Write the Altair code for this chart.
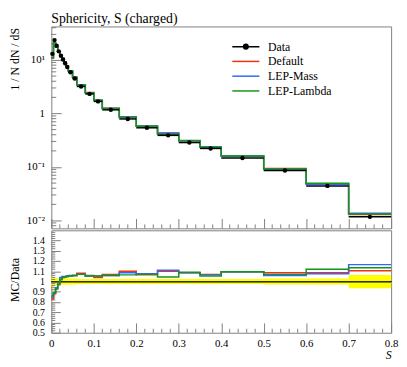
import altair as alt
import pandas as pd

FONT = "Liberation Serif"
GRAY = "#808080"

# ---------------- data ----------------
edges = [0.0, 0.005, 0.01, 0.015, 0.02, 0.025, 0.03, 0.035, 0.04, 0.05, 0.06, 0.08,
         0.10, 0.12, 0.16, 0.20, 0.25, 0.30, 0.35, 0.40, 0.50, 0.60, 0.70, 0.80]
data_vals = [13.0, 23.5, 18.5, 14.5, 12.0, 10.2, 8.7, 7.4, 5.9, 4.5, 3.2, 2.32, 1.68,
             1.17, 0.79, 0.54, 0.39, 0.286, 0.222, 0.147, 0.086, 0.0443, 0.0117]
data_relerr = [0.05, 0.04, 0.035, 0.03, 0.03, 0.03, 0.03, 0.03, 0.03, 0.03, 0.025, 0.025,
               0.025, 0.025, 0.025, 0.025, 0.025, 0.025, 0.025, 0.025, 0.03, 0.03, 0.065]
mc_default = [10.79, 20.68, 17.21, 14.07, 12.24, 10.61, 9.09, 7.77, 6.22, 4.77, 3.456, 2.459,
              1.747, 1.252, 0.869, 0.575, 0.429, 0.310, 0.2375, 0.161, 0.0933, 0.0481, 0.01293]
mc_lepmass = [11.05, 20.92, 17.39, 14.36, 12.48, 10.71, 9.14, 7.81, 6.25, 4.77, 3.424, 2.448,
              1.772, 1.240, 0.857, 0.5805, 0.433, 0.310, 0.2364, 0.161, 0.0912, 0.0476, 0.01363]
mc_leplambda = [11.18, 20.92, 17.21, 14.07, 12.24, 10.61, 9.09, 7.77, 6.22, 4.77, 3.424, 2.448,
                1.772, 1.240, 0.841, 0.578, 0.4076, 0.3117, 0.2342, 0.161, 0.0920, 0.0496, 0.01328]
ratio_default = [0.83, 0.88, 0.93, 0.97, 1.02, 1.04, 1.045, 1.05, 1.055, 1.06, 1.08, 1.06,
                 1.04, 1.07, 1.10, 1.065, 1.10, 1.085, 1.07, 1.095, 1.085, 1.085, 1.105]
ratio_lepmass = [0.85, 0.89, 0.94, 0.99, 1.04, 1.05, 1.05, 1.055, 1.06, 1.06, 1.07, 1.055,
                 1.055, 1.06, 1.085, 1.075, 1.11, 1.085, 1.065, 1.095, 1.06, 1.075, 1.165]
ratio_leplambda = [0.86, 0.89, 0.93, 0.97, 1.02, 1.04, 1.045, 1.05, 1.055, 1.06, 1.07, 1.055,
                   1.055, 1.06, 1.065, 1.07, 1.045, 1.09, 1.055, 1.095, 1.07, 1.12, 1.135]
series_names = ["Data", "Default", "LEP-Mass", "LEP-Lambda"]
series_colors = ["#000000", "#EE3311", "#3366FF", "#109618"]

# axis tick positions
x_major = [0.0, 0.1, 0.2, 0.3, 0.4, 0.5, 0.6, 0.7, 0.8]
x_minor = [0.02, 0.04, 0.06, 0.08, 0.12, 0.14, 0.16, 0.18, 0.22, 0.24, 0.26, 0.28,
           0.32, 0.34, 0.36, 0.38, 0.42, 0.44, 0.46, 0.48, 0.52, 0.54, 0.56, 0.58,
           0.62, 0.64, 0.66, 0.68, 0.72, 0.74, 0.76, 0.78]
log_major = [0.01, 0.1, 1.0, 10.0]
log_minor = [0.008, 0.009, 0.02, 0.03, 0.04, 0.05, 0.06, 0.07, 0.08, 0.09,
             0.2, 0.3, 0.4, 0.5, 0.6, 0.7, 0.8, 0.9, 2.0, 3.0, 4.0, 5.0, 6.0, 7.0, 8.0, 9.0,
             20.0, 30.0, 40.0]
r_major = [0.5, 0.6, 0.7, 0.8, 0.9, 1.0, 1.1, 1.2, 1.3, 1.4]
r_minor = [0.52, 0.54, 0.56, 0.58, 0.62, 0.64, 0.66, 0.68, 0.72, 0.74, 0.76, 0.78,
           0.82, 0.84, 0.86, 0.88, 0.92, 0.94, 0.96, 0.98, 1.02, 1.04, 1.06, 1.08,
           1.12, 1.14, 1.16, 1.18, 1.22, 1.24, 1.26, 1.28, 1.32, 1.34, 1.36, 1.38,
           1.42, 1.44, 1.46, 1.48]

MAIN_H = 205
RATIO_H = 104
W = 345

# ---------------- frames ----------------
bins = pd.DataFrame({"lo": edges[:-1], "hi": edges[1:], "val": data_vals, "err": data_relerr})
bins["mid"] = (bins["lo"] + bins["hi"]) / 2
bins["ylo"] = bins["val"] * (1 - bins["err"])
bins["yhi"] = bins["val"] * (1 + bins["err"])
bins["blo"] = 1 - bins["err"]
bins["bhi"] = 1 + bins["err"]


def steps(vals):
    return pd.DataFrame({"x": edges, "y": list(vals) + [vals[-1]]})


# ---------------- scales / axes ----------------
xs = alt.Scale(domain=[0, 0.8], nice=False, zero=False)
ys_main = alt.Scale(type="log", domain=[0.00713, 42.3], nice=False)
ys_ratio = alt.Scale(domain=[0.5, 1.5], nice=False, zero=False)

common_axis = dict(grid=False, domain=False, tickColor=GRAY, tickWidth=1,
                   labelFont=FONT, labelColor="black", tickCount=30,
                   labelOverlap=False, labelFlush=False, labelBound=False)

x_axis_main = alt.Axis(values=x_major, labels=False, title=None,
                       tickSize=alt.ExprRef("-10"), minExtent=0, maxExtent=0,
                       **common_axis)
x_axis_ratio = alt.Axis(values=x_major, title="S", titleFont=FONT, titleFontSize=12,
                        titleFontStyle="italic", titleFontWeight="normal", titleColor="black",
                        titleAnchor="end", titlePadding=1, labelPadding=15, labelFontSize=11,
                        labelExpr="datum.value == 0 ? '0' : format(datum.value, '.1f')",
                        tickSize=alt.ExprRef("-10"),
                        **common_axis)
y_axis_main = alt.Axis(values=log_major, title="1 / N dN / dS", titleFont=FONT, titleFontSize=12,
                       titleFontWeight="normal", titleColor="black", titleAngle=-90,
                       titleX=-42, titleY=1, titleAlign="right", titleBaseline="top",
                       labelPadding=17, labelFontSize=11,
                       labelExpr="datum.value == 10 ? '10\u00b9' : datum.value == 1 ? '1' : datum.value == 0.1 ? '10\u207b\u00b9' : '10\u207b\u00b2'",
                       tickSize=alt.ExprRef("-10"),
                       **common_axis)
y_axis_ratio = alt.Axis(values=r_major, title="MC/Data", titleFont=FONT, titleFontSize=12,
                        titleFontWeight="normal", titleColor="black", titleAngle=-90,
                        titleX=-42, titleY=50, titleAlign="center", titleBaseline="top",
                        labelPadding=16, labelFontSize=10,
                        labelExpr="datum.value == 1 ? '1' : format(datum.value, '.1f')",
                        tickSize=alt.ExprRef("-9"),
                        **common_axis)


def XM(f):
    return alt.X(f, type="quantitative", scale=xs, axis=x_axis_main)


def YM(f):
    return alt.Y(f, type="quantitative", scale=ys_main, axis=y_axis_main)


def XR(f):
    return alt.X(f, type="quantitative", scale=xs, axis=x_axis_ratio)


def YR(f):
    return alt.Y(f, type="quantitative", scale=ys_ratio, axis=y_axis_ratio)


# ---------------- main panel ----------------
main_layers = []
# minor ticks (inside the frame)
main_layers.append(
    alt.Chart(pd.DataFrame({"t": x_minor})).mark_rule(color=GRAY, strokeWidth=1)
    .encode(x=XM("t"), y=alt.value(MAIN_H), y2=alt.value(MAIN_H - 4))
)
main_layers.append(
    alt.Chart(pd.DataFrame({"t": log_minor})).mark_rule(color=GRAY, strokeWidth=1)
    .encode(y=YM("t"), x=alt.value(0), x2=alt.value(5))
)
for vals, col in zip([mc_default, mc_lepmass, mc_leplambda], series_colors[1:]):
    main_layers.append(
        alt.Chart(steps(vals)).mark_line(interpolate="step-after", color=col, strokeWidth=1.5)
        .encode(x=XM("x"), y=YM("y"))
    )
main_layers.append(
    alt.Chart(bins).mark_rule(color="black", strokeWidth=1.5)
    .encode(x=XM("lo"), x2="hi", y=YM("val"))
)
main_layers.append(
    alt.Chart(bins).mark_rule(color="black", strokeWidth=1)
    .encode(x=XM("mid"), y=YM("ylo"), y2="yhi")
)
main_layers.append(
    alt.Chart(bins).mark_circle(color="black", size=20, opacity=1)
    .encode(x=XM("mid"), y=YM("val"))
)

data_path = "M-2.5,0H2.5M-0.42,0A0.42,0.42,0,1,0,0.42,0A0.42,0.42,0,1,0,-0.42,0Z"
line_path = "M-2.5,0H2.5"
legend_df = pd.DataFrame({"x": pd.Series([], dtype=float), "y": pd.Series([], dtype=float),
                          "series": pd.Series([], dtype=str)})
leg = dict(title=None, orient="none", legendX=191, legendY=14,
           symbolSize=121, labelFont=FONT, labelFontSize=12,
           labelColor="black", labelOffset=16, rowPadding=2,
           padding=0, symbolStrokeWidth=1.5, symbolOpacity=1)
main_layers.append(
    alt.Chart(legend_df).mark_point(opacity=1, strokeWidth=1.5)
    .encode(
        x=XM("x"), y=YM("y"),
        stroke=alt.Stroke("series:N", scale=alt.Scale(domain=series_names, range=series_colors),
                          legend=alt.Legend(**leg)),
        fill=alt.Fill("series:N", scale=alt.Scale(domain=series_names,
                                                  range=["#000000", "transparent", "transparent", "transparent"]),
                      legend=alt.Legend(**leg)),
        shape=alt.Shape("series:N", scale=alt.Scale(domain=series_names,
                                                    range=[data_path, line_path, line_path, line_path]),
                        legend=alt.Legend(**leg)),
    )
)

main = alt.layer(*main_layers).properties(
    width=W, height=MAIN_H,
    title=alt.TitleParams("Sphericity, S (charged)", anchor="start", frame="group", font=FONT,
                          fontSize=14, fontWeight="normal", color="black", offset=1),
)

# ---------------- ratio panel ----------------
ratio_layers = [
    alt.Chart(bins).mark_rect(color="#FFFF00", opacity=1)
    .encode(x=XR("lo"), x2="hi", y=YR("blo"), y2="bhi"),
    alt.Chart(bins).mark_rule(color="#333300", strokeWidth=1)
    .encode(y=alt.datum(1)),
    alt.Chart(pd.DataFrame({"t": x_minor})).mark_rule(color=GRAY, strokeWidth=1)
    .encode(x=XR("t"), y=alt.value(RATIO_H), y2=alt.value(RATIO_H - 4)),
    alt.Chart(pd.DataFrame({"t": r_minor})).mark_rule(color=GRAY, strokeWidth=1)
    .encode(y=YR("t"), x=alt.value(0), x2=alt.value(4)),
]
for vals, col in zip([ratio_default, ratio_lepmass, ratio_leplambda], series_colors[1:]):
    ratio_layers.append(
        alt.Chart(steps(vals)).mark_line(interpolate="step-after", color=col, strokeWidth=1.5)
        .encode(x=XR("x"), y=YR("y"))
    )
ratio = alt.layer(*ratio_layers).properties(width=W, height=RATIO_H)

chart = (
    alt.vconcat(main, ratio, spacing=0)
    .resolve_legend(stroke="independent", fill="independent", shape="independent")
    .properties(padding={"left": 0, "top": 0, "right": 0, "bottom": 0}, background="white")
    .configure_view(stroke=GRAY, strokeWidth=1)
)

chart.save("out.html", embed_options={"renderer": "svg", "actions": False})
